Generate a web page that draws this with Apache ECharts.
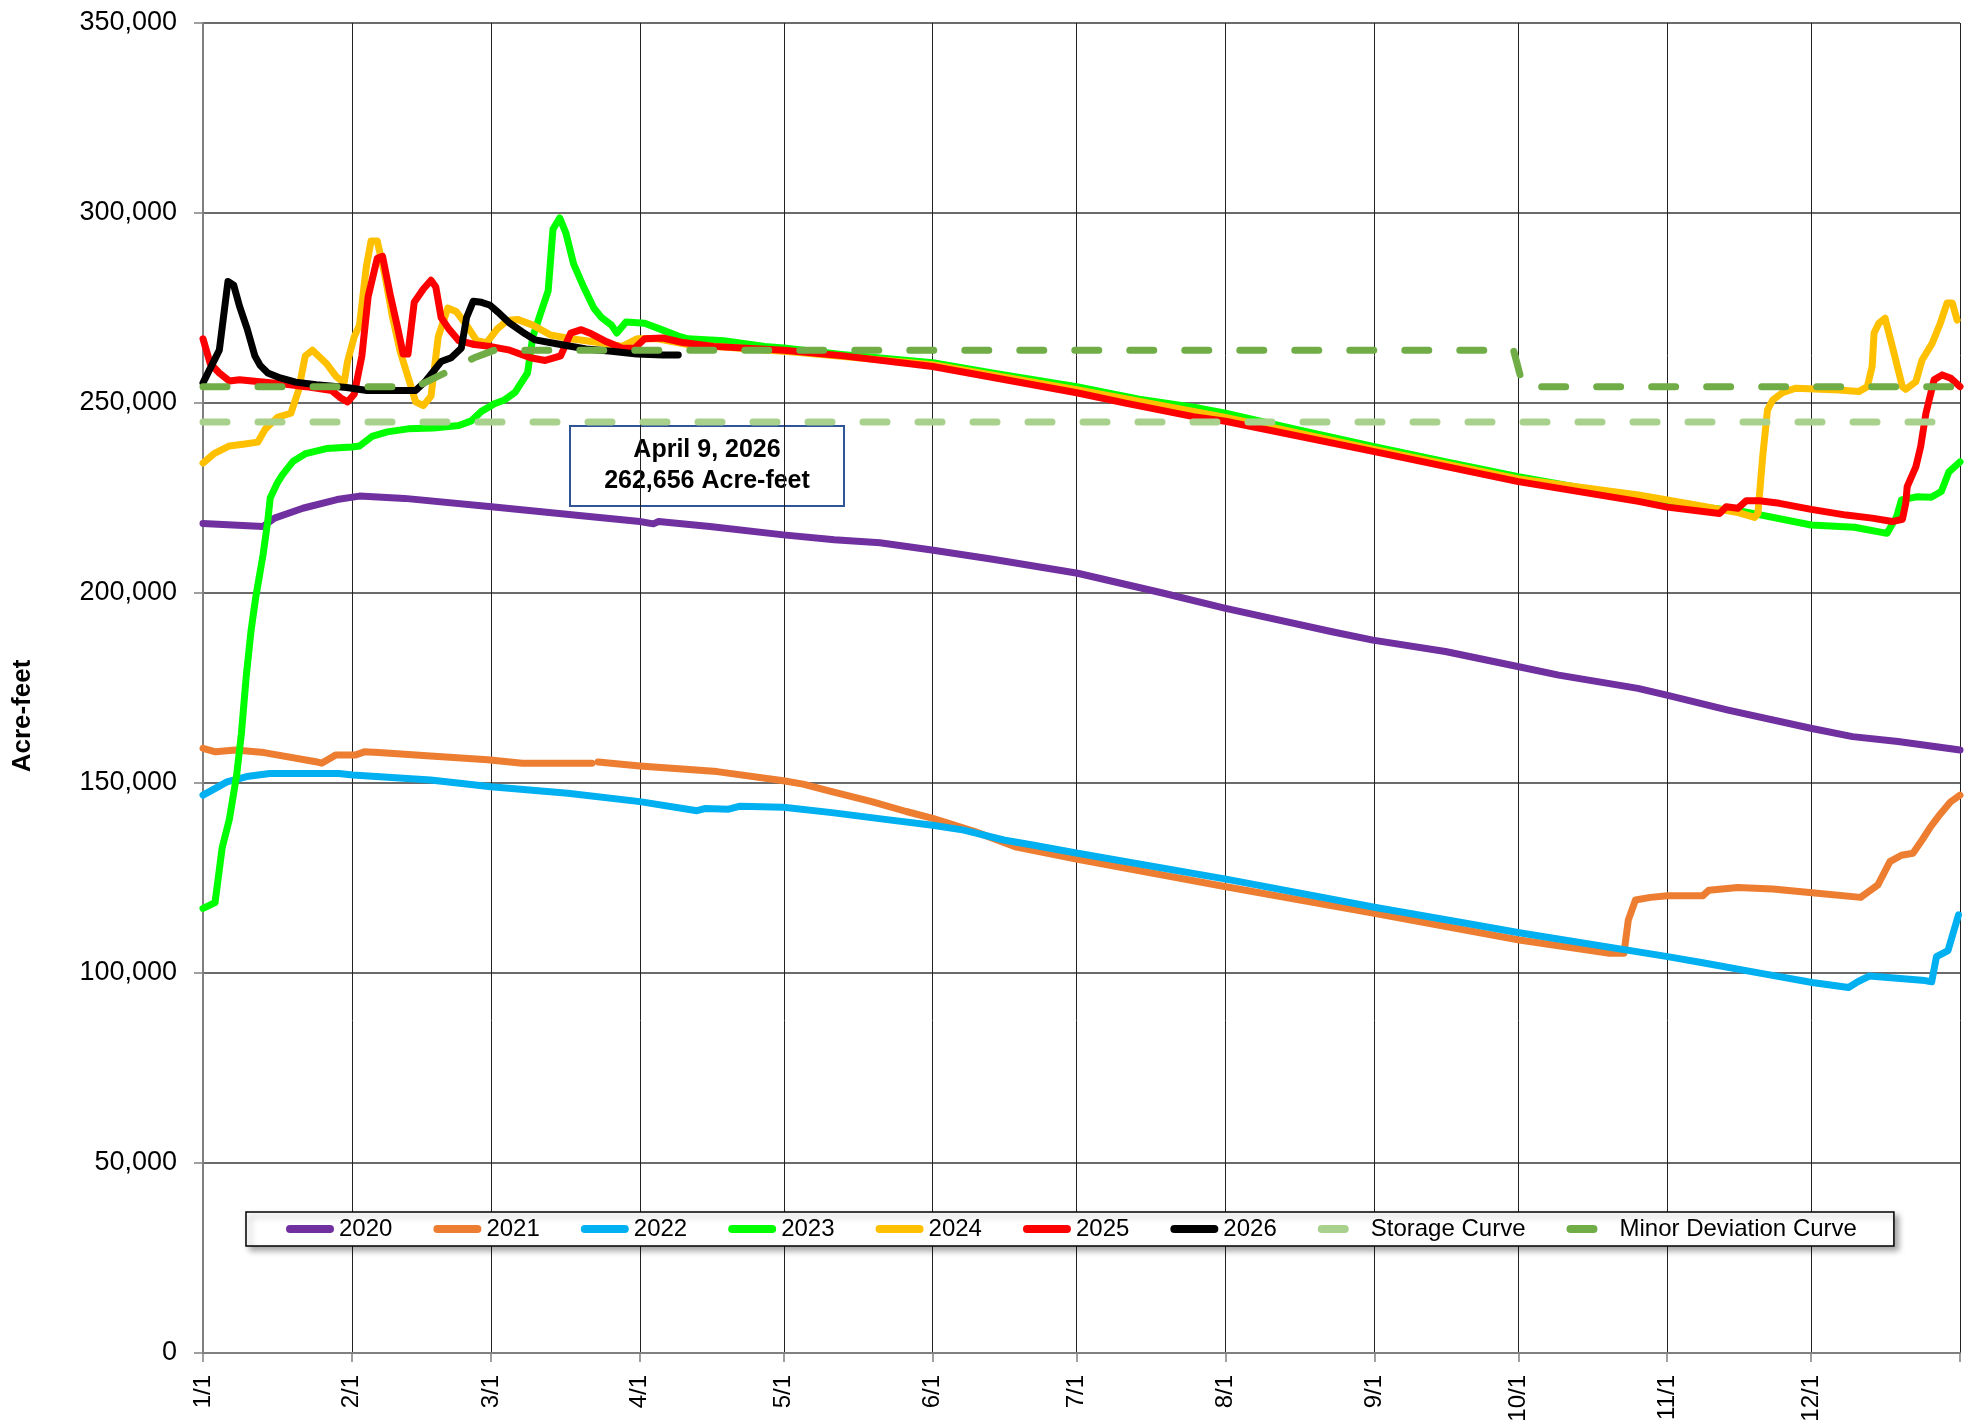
<!DOCTYPE html>
<html>
<head>
<meta charset="utf-8">
<script src="https://cdn.jsdelivr.net/npm/echarts@6/dist/echarts.min.js"></script>
<style>html,body{margin:0;padding:0;background:#fff}#c{width:1976px;height:1421px}</style>
</head>
<body>
<div id="c"></div>
<script>
// x = day of year (0 = 1/1, leap-year axis of 366 days)
const monthStarts = [0, 31, 60, 91, 121, 152, 182, 213, 244, 274, 305, 335, 366];
const monthLabels = ['1/1','2/1','3/1','4/1','5/1','6/1','7/1','8/1','9/1','10/1','11/1','12/1',''];
const yTicks = [0, 50000, 100000, 150000, 200000, 250000, 300000, 350000];

const y2020 = [[0,218300],[12.5,217500],[14.9,219700],[20.8,222300],[27.9,224600],[32.6,225500],[42,224900],[60.1,222700],[77.3,220500],[91,218800],[93.8,218200],[94.9,218800],[105.6,217500],[120.9,215300],[131.5,214000],[141,213200],[151.8,211300],[164.5,208900],[182.2,205200],[199.9,200000],[212.8,196000],[235.2,189800],[243.7,187600],[258.8,184600],[274.1,180600],[282.4,178400],[298.9,174900],[304.7,173200],[317.7,169200],[334.9,164400],[343.6,162200],[353.1,160900],[366,158700]];

const y2021 = [[0,159100],[2.6,158200],[6.8,158700],[12.7,158000],[23.5,155600],[24.7,155200],[27.7,157400],[31.8,157400],[33.6,158200],[36.6,158000],[47.4,157100],[59.3,156100],[66.5,155200],[81,155200],[81.6,null],[82.3,155500],[91,154500],[107.1,153000],[120.9,150600],[125,149700],[131,147700],[139.3,145100],[146.5,142500],[152,140700],[160.8,137200],[169.2,133200],[182.2,129900],[213.1,122700],[244,115700],[274.2,108700],[293,105200],[296,105200],[296.9,113900],[298.4,119200],[301.5,119900],[305.1,120300],[312.4,120300],[313.7,121800],[319.7,122500],[327,122100],[335.2,121100],[345.3,119900],[348.9,123200],[351.4,129300],[353.8,131000],[356.2,131500],[358.1,135000],[359.9,138500],[362,142000],[364,145000],[366,146800]];

const y2022 = [[0,146800],[2,148200],[5,150300],[9.1,151700],[13.9,152500],[28.3,152500],[31.2,152100],[47.4,150800],[60,149000],[76,147300],[91,145100],[102.9,142700],[104.7,143300],[109.5,143100],[111.9,143900],[120.9,143600],[131,142200],[142.9,140300],[152,138900],[158.5,137600],[166.8,135000],[172.8,133700],[182.2,131500],[213.1,124700],[244,117300],[261.3,113500],[274.2,110600],[305.1,104300],[312.4,102700],[324.6,99900],[335.2,97500],[342.8,96200],[344.7,97700],[347.1,99200],[358.7,98000],[360.1,97700],[361.1,104300],[363.5,105900],[365.7,115300]];

const y2023 = [[0,117000],[2.5,118500],[4,133000],[5.5,140500],[7,152000],[8,163000],[9,178000],[10,190000],[11,199000],[12.5,210000],[13.5,219000],[14,225000],[15.5,229000],[16.5,231000],[18.8,234700],[21.4,236700],[25.7,238000],[31,238400],[32.6,238700],[35.2,241200],[38.4,242400],[42.7,243200],[48,243400],[53.3,244100],[55.9,245300],[58,247800],[60.7,249800],[62.8,250800],[65,252800],[67.6,257900],[68.7,267400],[70.3,273500],[71.9,279500],[72.9,295700],[74.3,298700],[75.6,294700],[77.2,286600],[79.3,280500],[81.4,275000],[83,272500],[85.1,270500],[86.2,268400],[88.1,271300],[92,271000],[94.7,269700],[99,267600],[101,266900],[108.5,266400],[117,264900],[121,264500],[133,262800],[152,260600],[165,257800],[182,254300],[195,251000],[207.7,248600],[213,247300],[228,243000],[244,238500],[259,234500],[274,230600],[290,227000],[305,223600],[321,221400],[335,217900],[344,217300],[350.8,215700],[352.8,220100],[353.8,224500],[356.9,225300],[360,225200],[362.1,226700],[363.7,231900],[366,234500]];

const y2024 = [[0,234200],[2.3,236700],[5.5,238700],[8.7,239200],[11.4,239700],[13,243200],[15.6,246300],[18.3,247300],[19.9,253300],[21.3,262400],[22.8,263900],[25.7,260400],[27.8,256900],[29.4,255300],[30.1,260900],[31.5,267400],[32.6,270500],[34,285600],[35,292600],[36.3,292600],[37.9,283600],[39.5,272500],[41.1,263400],[42.7,256900],[44.3,250300],[45.9,249300],[47.5,251800],[49,267400],[51,275000],[52.8,274000],[54.9,270500],[57,266400],[59.1,265900],[61.3,269500],[63.4,271700],[65.5,272000],[68.7,270500],[72.4,267900],[76.6,266900],[79.8,266400],[85.1,265400],[87.3,264900],[90.4,266900],[94.7,266900],[101,265400],[123,263400],[152,260100],[182,253500],[213,246200],[244,237800],[274,230000],[299,225800],[305,224500],[313,222700],[320,221100],[323.2,219900],[323.9,220900],[324.9,235900],[325.9,248200],[327,250800],[329,252700],[331.8,253900],[340.8,253400],[344.9,253000],[346.7,254300],[347.7,259600],[348.1,268400],[349.1,271000],[350.4,272300],[351.9,264900],[354,254300],[354.7,253600],[356.8,255600],[358.1,261300],[360.2,265700],[361.9,271000],[363.3,276300],[364.4,276300],[365.4,271800]];

const y2025 = [[0,266900],[1.5,260400],[3.4,257900],[5.5,255800],[7.6,256100],[10.8,255700],[16.1,255100],[21.4,254300],[26.8,253300],[28.7,251300],[30.1,250300],[31.5,252300],[33.1,262400],[34.4,278000],[36.3,288100],[37.4,288600],[39,278500],[40.6,269500],[41.7,262900],[42.7,262900],[44,276500],[45.9,280000],[47.5,282300],[48.5,280500],[49.6,272500],[51.2,269500],[53.3,266400],[56.5,265400],[59.7,264900],[63.9,263900],[68.2,261900],[71.3,261200],[74.5,262400],[76.6,268400],[78.8,269300],[80.9,268200],[84.1,266100],[87.3,264400],[89.9,264400],[92,266900],[95.8,267100],[100,265900],[106.4,264900],[121,263900],[133.4,262400],[152,259600],[164.6,256700],[182,252700],[192.4,249900],[206.3,246400],[213,245200],[244,237200],[274,229300],[299,224100],[305,222600],[315.9,220900],[317.3,222700],[319.7,222300],[321.5,224300],[324.2,224300],[328.4,223600],[335,222000],[342.3,220500],[347.7,219700],[351.9,218800],[354,219400],[354.7,223600],[355,228000],[356.8,233200],[357.8,238500],[358.9,247300],[360.6,256100],[362.3,257400],[364.1,256500],[366,254300]];

const y2026 = [[0,255300],[3.4,263900],[5.2,282000],[6.4,281000],[7.6,275500],[9.2,269500],[10.8,262400],[11.9,259900],[13.5,257900],[16.1,256600],[19.3,255500],[23.6,254800],[29.9,254100],[34.2,253300],[44.3,253300],[46.4,255800],[49.6,260900],[51.7,261900],[53.8,264400],[54.9,272500],[56.3,276800],[58,276500],[59.7,275800],[61.8,273500],[63.9,271000],[67.1,268200],[69.2,266600],[74.5,265400],[79.8,264200],[85.1,263600],[90.4,262900],[95.8,262600],[99,262656]];

const storageCurve = [[0,245000],[366,245000]];
const minorDeviationCurve = [[0,254300],[44.5,254300],[51.2,258400],[56.5,261900],[60.7,263900],[273,263900],[275,254300],[366,254300]];

const annotationLines = ['April 9, 2026', '262,656 Acre-feet'];

const FONT = '"Liberation Sans", Arial, sans-serif';
const ICON_SOLID = 'path://M4,0 H44 A4,4 0 0 1 44,8 H4 A4,4 0 0 1 4,0 Z';
const ICON_DASH = 'path://M4,0 H27 A4,4 0 0 1 27,8 H4 A4,4 0 0 1 4,0 Z M48,4 L48,4';

function lineSeries(name, data, color) {
  return {
    name: name, type: 'line', data: data, showSymbol: false, symbol: 'none',
    connectNulls: false, animation: false,
    lineStyle: { color: color, width: 7, cap: 'round', join: 'round' },
    itemStyle: { color: color },
    emphasis: { disabled: true }
  };
}
function dashSeries(name, data, color) {
  return {
    name: name, type: 'line', data: data, showSymbol: false, symbol: 'none', animation: false,
    lineStyle: { color: color, width: 7, type: [24, 31], cap: 'round', join: 'round' },
    itemStyle: { color: color },
    emphasis: { disabled: true }
  };
}

const seriesList = [
  lineSeries('2020', y2020, '#7030A0'),
  lineSeries('2021', y2021, '#ED7D31'),
  lineSeries('2022', y2022, '#00B0F0'),
  lineSeries('2023', y2023, '#00FF00'),
  lineSeries('2024', y2024, '#FFC000'),
  lineSeries('2025', y2025, '#FF0000'),
  lineSeries('2026', y2026, '#000000'),
  dashSeries('Storage Curve', storageCurve, '#A9D18E'),
  dashSeries('Minor Deviation Curve', minorDeviationCurve, '#70AD47')
];

const chart = echarts.init(document.getElementById('c'), null, { renderer: 'canvas' });
chart.setOption({
  backgroundColor: '#ffffff',
  animation: false,
  textStyle: { fontFamily: FONT },
  grid: { left: 203, right: 16, top: 23, bottom: 68, containLabel: false, outerBoundsMode: 'none' },
  legend: {
    left: 246, top: 1212,
    padding: [5, 37, 5, 40],
    itemWidth: 48, itemHeight: 8, itemGap: 41,
    backgroundColor: '#ffffff',
    borderColor: '#000000', borderWidth: 1.5,
    shadowColor: 'rgba(0,0,0,0.35)', shadowBlur: 6, shadowOffsetX: 4, shadowOffsetY: 4,
    textStyle: { fontSize: 24, color: '#000', fontFamily: FONT },
    selectedMode: false,
    data: seriesList.map(function (s) {
      return { name: s.name, icon: Array.isArray(s.lineStyle.type) ? ICON_DASH : ICON_SOLID };
    })
  },
  xAxis: {
    type: 'value', min: 0, max: 366,
    axisLine: { show: true, lineStyle: { color: '#808080', width: 2 } },
    axisTick: { show: true, customValues: monthStarts, length: 9, lineStyle: { color: '#808080', width: 1.5 } },
    axisLabel: {
      customValues: monthStarts.slice(0, 12),
      rotate: 90, margin: 22, fontSize: 24, color: '#000', fontFamily: FONT,
      formatter: function (v) { const i = monthStarts.indexOf(Math.round(v)); return i >= 0 ? monthLabels[i] : ''; }
    },
    splitLine: { show: true, lineStyle: { color: '#222', width: 1 } }
  },
  yAxis: {
    type: 'value', min: 0, max: 350000, interval: 50000,
    axisLine: { show: true, lineStyle: { color: '#808080', width: 2 } },
    axisTick: { show: true, length: 9, lineStyle: { color: '#808080', width: 1.5 } },
    axisLabel: {
      margin: 26, fontSize: 27, color: '#000', fontFamily: FONT,
      formatter: function (v) { return yTicks.indexOf(v) >= 0 ? v.toLocaleString('en-US') : ''; }
    },
    splitLine: { show: true, lineStyle: { color: '#3a3a3a', width: 1.5 } }
  },
  series: seriesList,
  graphic: [{
    type: 'text', x: 23, y: 716, rotation: Math.PI / 2, z: 100,
    style: { text: 'Acre-feet', fill: '#000', font: 'bold 26px ' + FONT, align: 'center', verticalAlign: 'middle' }
  }, {
    type: 'group', left: 569, top: 425, z: 100,
    children: [
      { type: 'rect', shape: { x: 0, y: 0, width: 274, height: 80 },
        style: { fill: '#ffffff', stroke: '#2F5597', lineWidth: 2 } },
      { type: 'text', x: 137, y: 40,
        style: { text: annotationLines.join('\n'), fill: '#000', font: 'bold 25px ' + FONT,
                 align: 'center', verticalAlign: 'middle', lineHeight: 31 } }
    ]
  }]
});
</script>
</body>
</html>
